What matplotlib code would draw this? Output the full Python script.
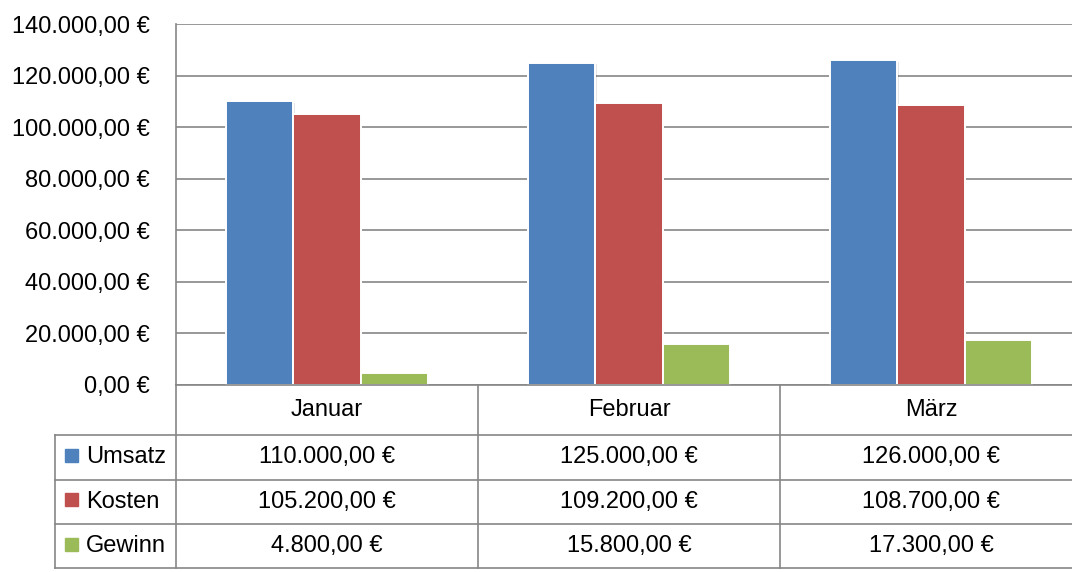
import matplotlib.pyplot as plt
import matplotlib.patheffects as pe
from matplotlib.patches import Rectangle
import numpy as np

plt.rcParams['font.family'] = ['Liberation Sans', 'DejaVu Sans']

months = ['Januar', 'Februar', 'März']
series_names = ['Umsatz', 'Kosten', 'Gewinn']
umsatz = [110000, 125000, 126000]
kosten = [105200, 109200, 108700]
gewinn = [4800, 15800, 17300]
y_ticks = [0, 20000, 40000, 60000, 80000, 100000, 120000, 140000]

colors = ['#4F81BD', '#C0504D', '#9BBB59']
grid_col = '#868686'
FS = 17


def euro(v):
    s = f"{v:,.2f}"
    s = s.replace(',', 'X').replace('.', ',').replace('X', '.')
    return s + ' €'


W, H = 1072, 572
fig = plt.figure(figsize=(W / 100, H / 100), dpi=100, facecolor='white')

# plot area in pixels: x 176..1082 (3 categories of 302 px), y 24..385
ax = fig.add_axes([176 / W, 187 / H, 906 / W, 361 / H])
ax.set_xlim(0, 3)
ax.set_ylim(0, 140000)

x = np.arange(len(months)) + 0.5
bw = 0.222
all_series = [umsatz, kosten, gewinn]
shadow = [pe.SimplePatchShadow(offset=(1.2, -1.2), shadow_rgbFace='#000000', alpha=0.1), pe.Normal()]
for i, vals in enumerate(all_series):
    bars = ax.bar(x + (i - 1) * bw, vals, width=bw, color=colors[i],
                  edgecolor='white', linewidth=1.4, zorder=3)
    for b in bars:
        b.set_path_effects(shadow)

ax.set_yticks(y_ticks)
ax.set_yticklabels([euro(v) for v in y_ticks], fontsize=FS)
ax.tick_params(axis='y', length=0, pad=19)
ax.set_xticks([])
ax.grid(axis='y', color=grid_col, linewidth=1.2, zorder=0)
ax.set_axisbelow(True)
for s in ['top', 'right']:
    ax.spines[s].set_visible(False)
for s in ['left', 'bottom']:
    ax.spines[s].set_color(grid_col)
    ax.spines[s].set_linewidth(1.2)
ax.spines['bottom'].set_zorder(4)

# data table below the chart
tx0 = (55 - 176) / 302
tab = fig.add_axes([55 / W, 4 / H, (1082 - 55) / W, 183 / H])
tab.set_xlim(tx0, 3)
tab.set_ylim(183, 0)
tab.axis('off')

row_edges = [0, 50, 94.5, 139, 183]
lk = dict(color=grid_col, linewidth=1.2, clip_on=False)
for yy in row_edges[1:]:
    tab.plot([tx0, 3], [yy, yy], **lk)
tab.plot([tx0, tx0], [row_edges[1], row_edges[-1]], **lk)
for xx in range(len(months) + 1):
    tab.plot([xx, xx], [0, row_edges[-1]], **lk)

for j, m in enumerate(months):
    tab.text(j + 0.5, (row_edges[0] + row_edges[1]) / 2, m, ha='center', va='center', fontsize=FS)

for i, (name, vals) in enumerate(zip(series_names, all_series)):
    yc = (row_edges[i + 1] + row_edges[i + 2]) / 2
    tab.add_patch(Rectangle((tx0 + 10 / 302, yc - 8.5), 13 / 302, 13, color=colors[i], clip_on=False))
    tab.text(tx0 + 31 / 302, yc, name, ha='left', va='center', fontsize=FS)
    for j, v in enumerate(vals):
        tab.text(j + 0.5, yc, euro(v), ha='center', va='center', fontsize=FS)

fig.savefig('out.png', dpi=100, facecolor='white')
